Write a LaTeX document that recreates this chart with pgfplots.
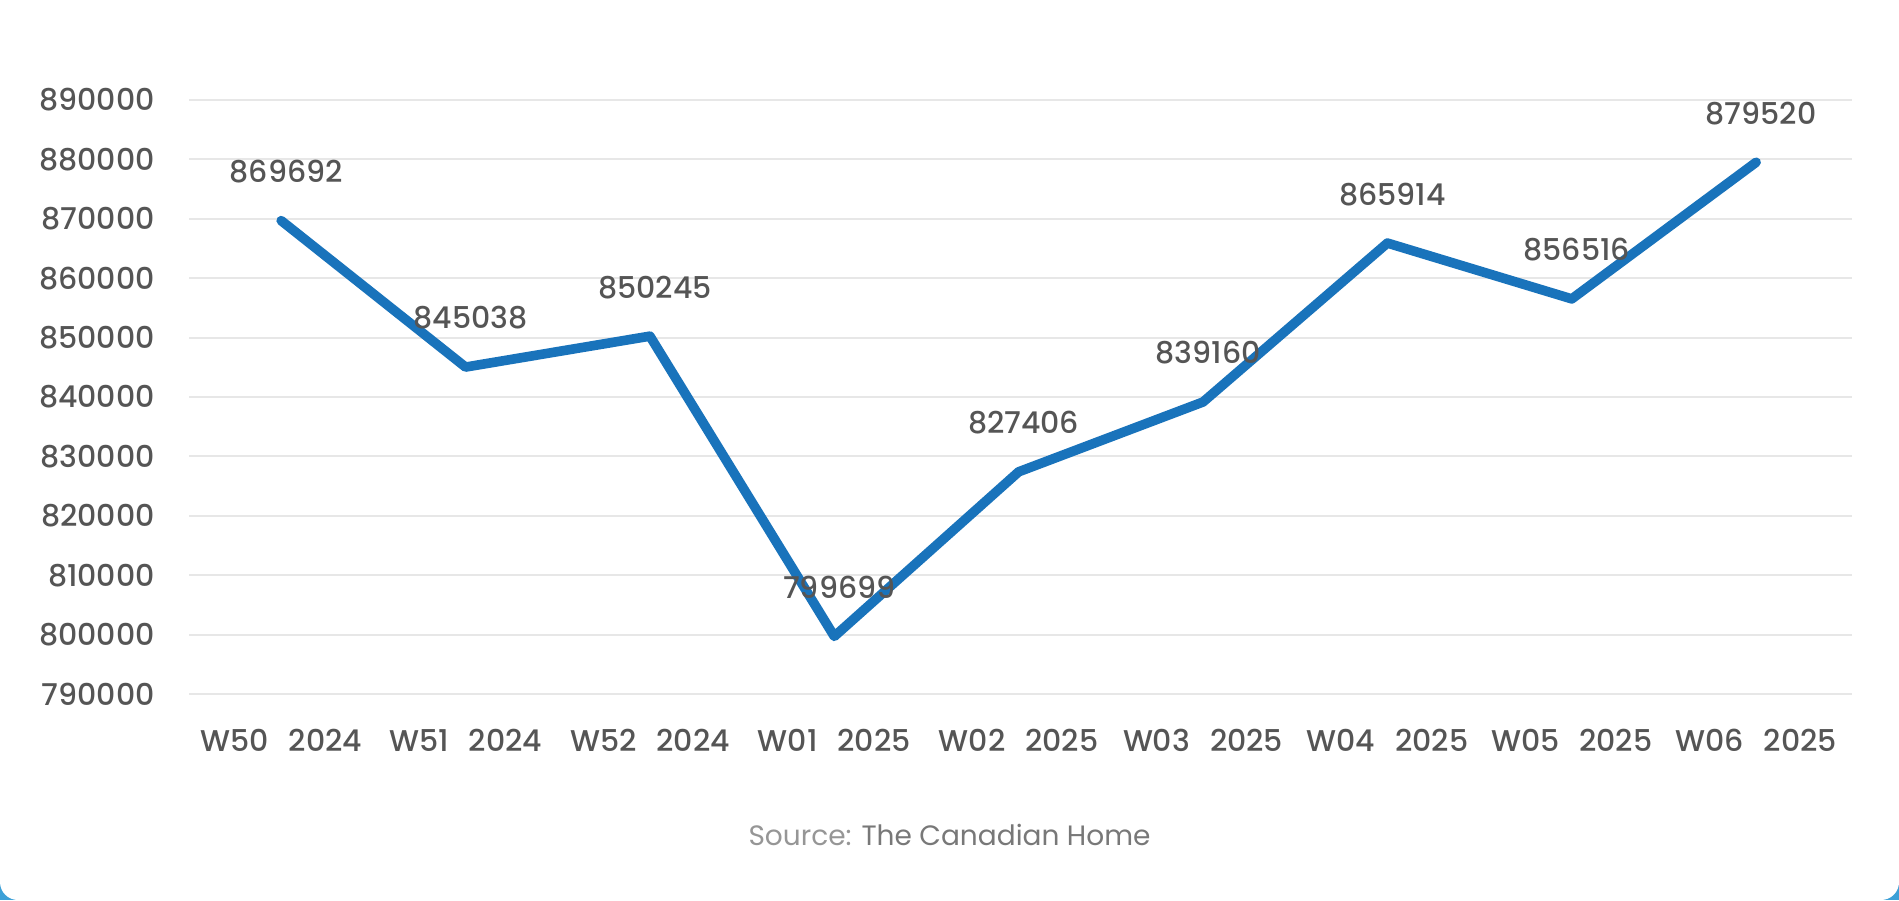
\documentclass[border=0pt]{standalone}
\usepackage{pgfplots}
\usepackage{pgfplotstable}
\pgfplotsset{compat=1.18}
\usepackage{fontspec}
\setmainfont{Poppins}
\newfontfamily\medfont{Poppins}[UprightFont=* Medium]

\definecolor{lineblue}{RGB}{25,115,187}
\definecolor{gridgray}{RGB}{231,231,231}
\definecolor{labelgray}{RGB}{85,85,85}
\definecolor{srcgray}{RGB}{150,150,150}
\definecolor{srcdark}{RGB}{120,120,120}
\definecolor{bgblue}{RGB}{60,160,215}

% one drawing unit
\newlength\pu
\setlength\pu{0.5bp}

% weekly average price
\pgfplotstableread{
x y      label
0 869692 869692
1 845038 845038
2 850245 850245
3 799699 799699
4 827406 827406
5 839160 839160
6 865914 865914
7 856516 856516
8 879520 879520
}\pricedata

\newcommand\ticksize{\medfont\fontsize{15bp}{18bp}\selectfont}

\begin{document}
\begin{tikzpicture}
\useasboundingbox (0,0) rectangle (1899\pu,900\pu);
\fill[bgblue] (0,0) rectangle (1899\pu,900\pu);
\fill[white, rounded corners=18\pu] (0,0) rectangle (1899\pu,960\pu);

\begin{axis}[
  at={(189\pu,206\pu)}, anchor=south west,
  scale only axis, width=1663\pu, height=594\pu,
  xmin=-0.5, xmax=8.52, ymin=790000, ymax=890000,
  clip=false,
  scaled y ticks=false,
  axis line style={draw=none},
  major tick length=0pt,
  ymajorgrids,
  grid style={gridgray, line width=1bp},
  xtick={0,...,8},
  xticklabels={
    W50\hspace{20\pu}2024, W51\hspace{20\pu}2024, W52\hspace{20\pu}2024,
    W01\hspace{20\pu}2025, W02\hspace{20\pu}2025, W03\hspace{20\pu}2025,
    W04\hspace{20\pu}2025, W05\hspace{20\pu}2025, W06\hspace{20\pu}2025},
  ytick={790000,800000,810000,820000,830000,840000,850000,860000,870000,880000,890000},
  yticklabels={790000,800000,810000,820000,830000,840000,850000,860000,870000,880000,890000},
  xticklabel style={anchor=north, inner sep=0pt, yshift=-35\pu, font=\ticksize, text=labelgray},
  yticklabel style={anchor=east, inner sep=0pt, xshift=-34\pu, font=\ticksize, text=labelgray},
  point meta=explicit symbolic,
  nodes near coords,
  every node near coord/.append style={anchor=center, inner sep=0pt,
    xshift=5\pu, yshift=49\pu, font=\ticksize, text=labelgray},
]
\addplot[lineblue, line width=4.8bp, line join=round, line cap=round, mark=none]
  table[x=x, y=y, meta=label] {\pricedata};
\end{axis}

\node[font=\fontsize{14bp}{17bp}\selectfont] at (949.5\pu,65\pu)
  {\textcolor{srcgray}{Source:} \textcolor{srcdark}{The Canadian Home}};
\end{tikzpicture}
\end{document}
